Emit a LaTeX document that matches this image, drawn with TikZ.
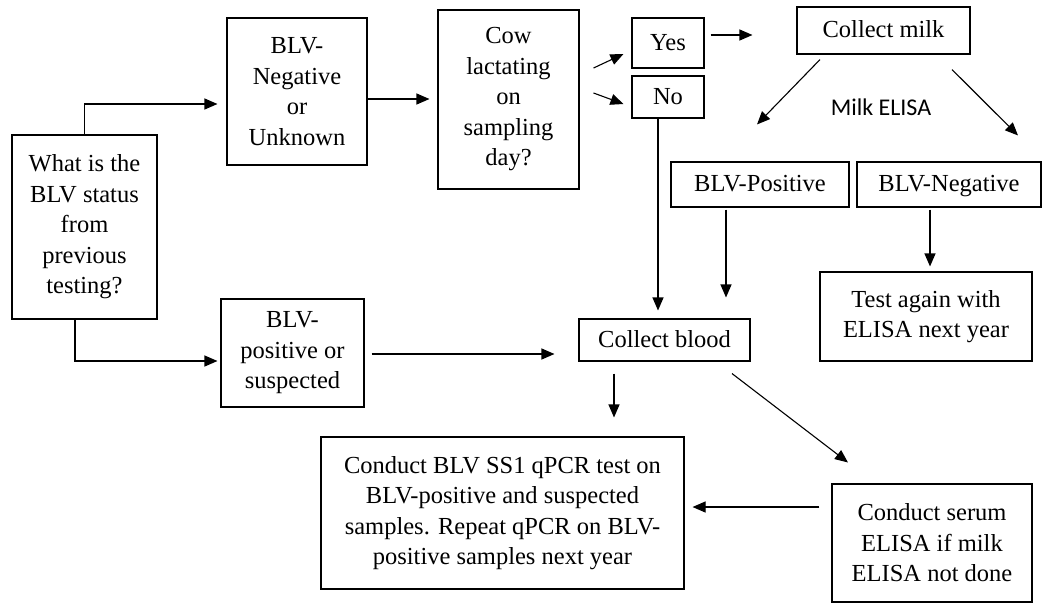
\documentclass[tikz,border=0pt]{standalone}
\usepackage{fontspec}
\setmainfont{Liberation Serif}
\newfontfamily\carl{Carlito}
\usetikzlibrary{arrows.meta,calc}
\begin{document}
\begin{tikzpicture}[x=1pt,y=-1pt,
  box/.style={draw, line width=1.1pt, align=center, inner sep=0pt,
    font=\fontsize{24.5}{30.5}\selectfont},
  one/.style={text height=18pt, text depth=4pt},
  sz/.style 2 args={minimum width=#1pt, minimum height=#2pt},
  arr/.style={line width=1.1pt, -{Triangle[length=13pt,width=11pt]}},
  lbl/.style={font=\carl\fontsize{24}{28}\selectfont}]
\useasboundingbox (0,0) rectangle (1046,603);
\fill[white] (0,0) rectangle (1046,603);

\node[box, sz={145}{184}] (q) at (84.5,227) {What is the\\BLV status\\from\\previous\\testing?};
\node[box, sz={140}{147}] (neg) at (297,91.5) {BLV-\\Negative\\or\\Unknown};
\node[box, sz={141}{179}] (cow) at (508.5,99.5) {Cow\\lactating\\on\\sampling\\day?};
\node[box, one, sz={72}{50}] (yes) at (668,43) {Yes};
\node[box, one, sz={72}{42}] (no) at (668,97) {No};
\node[box, one, sz={173}{47}] (milk) at (883.5,30.5) {Collect milk};
\node[lbl] (me) at (881,107) {Milk ELISA};
\node[box, one, sz={178}{45}] (pos) at (760,184.5) {BLV-Positive};
\node[box, one, sz={184}{45}] (negb) at (949,184.5) {BLV-Negative};
\node[box, sz={212}{89}] (test) at (926,316.5) {Test again with\\ELISA next year};
\node[box, sz={143}{108}] (bpos) at (292.5,353) {BLV-\\positive or\\suspected};
\node[box, one, sz={171}{42}] (blood) at (664.5,340) {Collect blood};
\node[box, sz={363}{152}] (pcr) at (502.5,513) {Conduct BLV SS1 qPCR test on\\BLV-positive and suspected\\samples. Repeat qPCR on BLV-\\positive samples next year};
\node[box, sz={200}{118}] (serum) at (932,543) {Conduct serum\\ELISA if milk\\ELISA not done};

\draw[arr] (q.north) |- ($(neg.west)+(-9,12.5)$);
\draw[arr] ($(neg.east)+(0,7.5)$) -- ($(cow.west)+(-8,-0.5)$);
\draw[arr] ($(cow.east)+(14,-31.5)$) -- ($(yes.west)+(-8,11)$);
\draw[arr] ($(cow.east)+(14,-6.5)$) -- ($(no.west)+(-8,7)$);
\draw[arr] ($(yes.east)+(6,-8)$) -- ($(milk.west)+(-44,4.5)$);
\draw[arr] ($(milk.south)+(-63.5,5)$) -- ($(pos.north)+(-3,-37)$);
\draw[arr] ($(milk.south)+(68.5,15)$) -- ($(negb.north)+(69,-26)$);
\draw[arr] ($(pos.south)+(-34,2)$) -- ($(blood.north)+(61.5,-21)$);
\draw[arr] ($(no.south)+(-10,0)$) -- ($(blood.north)+(-6.5,-8)$);
\draw[arr] ($(negb.south)+(-19,2)$) -- ($(test.north)+(4,-5)$);
\draw[arr] ($(q.south)+(-9.5,0)$) |- ($(bpos.west)+(-3,8)$);
\draw[arr] ($(bpos.east)+(7,1)$) -- ($(blood.west)+(-24,14)$);
\draw[arr] ($(blood.south)+(-50.5,12)$) -- ($(pcr.north)+(111.5,-19)$);
\draw[arr] ($(blood.south)+(67.5,12)$) -- ($(serum.north)+(-84,-21)$);
\draw[arr] ($(serum.west)+(-12,-36)$) -- ($(pcr.east)+(8,-6)$);
\end{tikzpicture}
\end{document}
